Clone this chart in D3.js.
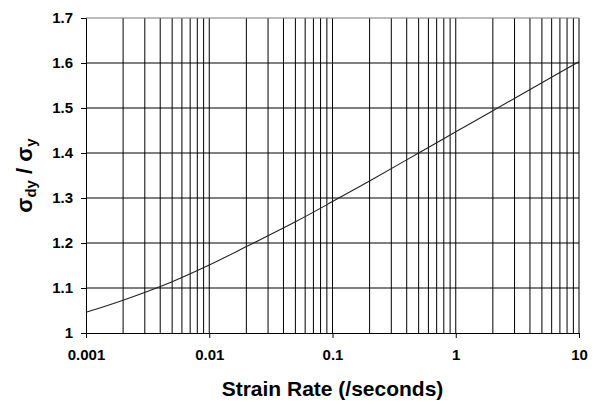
<!DOCTYPE html>
<html>
<head>
<meta charset="utf-8">
<script src="https://cdn.jsdelivr.net/npm/d3@7"></script>
<style>
  body { margin: 0; background: #fff; }
  text { font-family: Arial, "Liberation Sans", sans-serif; font-weight: bold; }
</style>
</head>
<body>
<div id="chart"></div>
<script>
// data
const strainRates = [0.001, 0.002, 0.005, 0.01, 0.02, 0.05, 0.1, 0.2, 0.5, 1, 2, 5, 10];
const stressRatio = [1.046, 1.073, 1.114, 1.151, 1.192, 1.247, 1.292, 1.338, 1.400, 1.447, 1.494, 1.556, 1.603];
const yTicks = [1, 1.1, 1.2, 1.3, 1.4, 1.5, 1.6, 1.7];
const xTicks = [0.001, 0.01, 0.1, 1, 10];
const xTickLabels = ["0.001", "0.01", "0.1", "1", "10"];

const width = 595, height = 404;
const margin = { top: 18, right: 16, bottom: 71, left: 86 };

const svg = d3.select("#chart")
  .append("svg")
  .attr("width", width)
  .attr("height", height);

const x = d3.scaleLog()
  .domain([0.001, 10])
  .range([margin.left, width - margin.right]);
const y = d3.scaleLinear()
  .domain([1, 1.7])
  .range([height - margin.bottom, margin.top]);

// minor + major vertical gridlines (every 1..9 in each decade)
const vGrid = [];
xTicks.slice(0, -1).forEach(d => {
  for (let k = 2; k <= 10; k++) vGrid.push(d * k);
});

svg.append("g")
  .selectAll("line")
  .data(vGrid)
  .enter()
  .append("line")
  .attr("x1", d => x(d))
  .attr("x2", d => x(d))
  .attr("y1", y(1))
  .attr("y2", y(1.7))
  .attr("stroke", "#000")
  .attr("stroke-width", 1);

svg.append("g")
  .selectAll("line")
  .data(yTicks.slice(1))
  .enter()
  .append("line")
  .attr("x1", x(0.001))
  .attr("x2", x(10))
  .attr("y1", d => y(d))
  .attr("y2", d => y(d))
  .attr("stroke", d => d === 1.7 ? "#777" : "#000")
  .attr("stroke-width", 1);

// axes
const yAxis = d3.axisLeft(y)
  .tickValues(yTicks)
  .tickSize(5)
  .tickPadding(8)
  .tickFormat(d => String(+d.toFixed(1)));

svg.append("g")
  .attr("transform", `translate(${margin.left},0)`)
  .call(yAxis)
  .call(g => g.selectAll("text").attr("font-size", 15).attr("fill", "#000"));

const xAxis = d3.axisBottom(x)
  .tickValues(xTicks)
  .tickSize(5)
  .tickPadding(11)
  .tickFormat((d, i) => xTickLabels[i]);

svg.append("g")
  .attr("transform", `translate(0,${height - margin.bottom})`)
  .call(xAxis)
  .call(g => g.selectAll("text").attr("font-size", 15).attr("fill", "#000"));

svg.selectAll(".domain").attr("stroke", "#000");

// curve
const line = d3.line()
  .x((d, i) => x(strainRates[i]))
  .y(d => y(d))
  .curve(d3.curveMonotoneX);

svg.append("path")
  .datum(stressRatio)
  .attr("d", line)
  .attr("fill", "none")
  .attr("stroke", "#222")
  .attr("stroke-width", 1.1);

// axis titles
svg.append("text")
  .attr("x", (margin.left + width - margin.right) / 2)
  .attr("y", 396)
  .attr("text-anchor", "middle")
  .attr("font-size", 21)
  .text("Strain Rate (/seconds)");

const yLabel = svg.append("text")
  .attr("transform", `translate(32,${(y(1) + y(1.7)) / 2}) rotate(-90)`)
  .attr("text-anchor", "middle")
  .attr("font-size", 22);
yLabel.append("tspan").text("σ");
yLabel.append("tspan").attr("font-size", 15).attr("dy", 4).text("dy");
yLabel.append("tspan").attr("dy", -4).text(" / σ");
yLabel.append("tspan").attr("font-size", 15).attr("dy", 4).text("y");
</script>
</body>
</html>
